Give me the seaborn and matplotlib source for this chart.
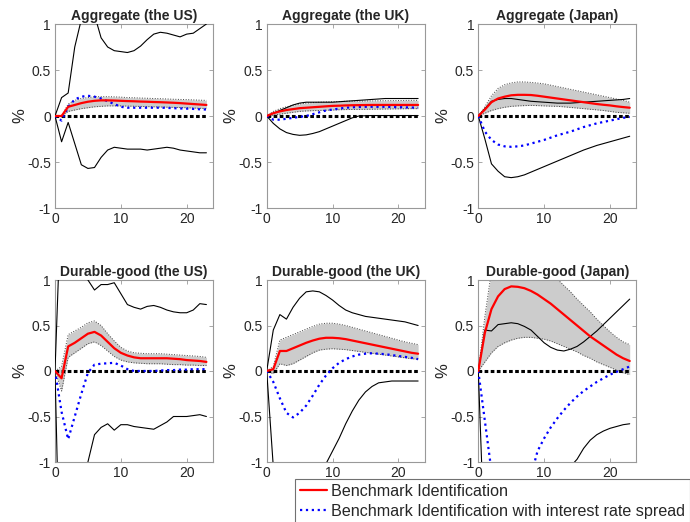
import seaborn as sns
import matplotlib.pyplot as plt
import pandas as pd

horizon = list(range(24))

titles = ['Aggregate (the US)', 'Aggregate (the UK)', 'Aggregate (Japan)',
          'Durable-good (the US)', 'Durable-good (the UK)', 'Durable-good (Japan)']

# benchmark identification: median and band
bench_med = [
    [0, 0, 0.10, 0.12, 0.14, 0.155, 0.165, 0.17, 0.17, 0.168, 0.165, 0.162, 0.16, 0.157, 0.155, 0.152, 0.15, 0.147, 0.144, 0.14, 0.135, 0.13, 0.125, 0.12],
    [0, 0.03, 0.05, 0.065, 0.075, 0.085, 0.09, 0.095, 0.10, 0.105, 0.11, 0.112, 0.115, 0.117, 0.118, 0.119, 0.12, 0.12, 0.12, 0.12, 0.12, 0.12, 0.12, 0.12],
    [0, 0.07, 0.15, 0.19, 0.21, 0.225, 0.23, 0.23, 0.228, 0.22, 0.21, 0.20, 0.19, 0.18, 0.17, 0.16, 0.15, 0.14, 0.13, 0.122, 0.115, 0.105, 0.097, 0.09],
    [0, -0.08, 0.27, 0.31, 0.36, 0.41, 0.43, 0.39, 0.32, 0.25, 0.20, 0.17, 0.15, 0.14, 0.14, 0.14, 0.14, 0.14, 0.135, 0.13, 0.12, 0.115, 0.11, 0.10],
    [0, 0.02, 0.22, 0.22, 0.25, 0.28, 0.31, 0.335, 0.355, 0.365, 0.365, 0.36, 0.35, 0.335, 0.32, 0.305, 0.29, 0.275, 0.26, 0.245, 0.23, 0.215, 0.20, 0.19],
    [0, 0.42, 0.68, 0.82, 0.90, 0.93, 0.925, 0.91, 0.88, 0.84, 0.79, 0.74, 0.68, 0.62, 0.56, 0.50, 0.44, 0.38, 0.33, 0.28, 0.23, 0.18, 0.14, 0.11],
]
bench_hi = [
    [0, 0.0, 0.13, 0.17, 0.19, 0.20, 0.21, 0.21, 0.21, 0.208, 0.205, 0.20, 0.198, 0.195, 0.193, 0.19, 0.188, 0.185, 0.182, 0.18, 0.178, 0.175, 0.172, 0.17],
    [0, 0.05, 0.08, 0.10, 0.115, 0.13, 0.14, 0.145, 0.15, 0.153, 0.155, 0.157, 0.16, 0.161, 0.162, 0.163, 0.164, 0.165, 0.166, 0.167, 0.168, 0.169, 0.17, 0.17],
    [0, 0.10, 0.22, 0.30, 0.34, 0.36, 0.37, 0.37, 0.365, 0.358, 0.35, 0.335, 0.32, 0.305, 0.29, 0.275, 0.26, 0.245, 0.23, 0.215, 0.20, 0.185, 0.17, 0.15],
    [0, 0.05, 0.40, 0.44, 0.48, 0.53, 0.55, 0.50, 0.41, 0.33, 0.26, 0.22, 0.20, 0.195, 0.19, 0.19, 0.19, 0.185, 0.18, 0.175, 0.17, 0.165, 0.16, 0.15],
    [0, 0.05, 0.34, 0.37, 0.40, 0.43, 0.46, 0.49, 0.515, 0.525, 0.525, 0.515, 0.50, 0.48, 0.46, 0.44, 0.42, 0.40, 0.38, 0.36, 0.34, 0.32, 0.305, 0.29],
    [0, 0.60, 1.10, 1.30, 1.40, 1.45, 1.45, 1.40, 1.35, 1.27, 1.18, 1.10, 1.01, 0.94, 0.87, 0.79, 0.72, 0.65, 0.57, 0.50, 0.43, 0.37, 0.32, 0.29],
]
bench_lo = [
    [0, 0.0, 0.05, 0.065, 0.08, 0.09, 0.10, 0.105, 0.11, 0.11, 0.11, 0.108, 0.106, 0.104, 0.102, 0.10, 0.098, 0.096, 0.094, 0.092, 0.09, 0.087, 0.084, 0.08],
    [0, 0.01, 0.02, 0.03, 0.04, 0.05, 0.055, 0.058, 0.06, 0.063, 0.065, 0.068, 0.07, 0.071, 0.072, 0.073, 0.074, 0.075, 0.076, 0.077, 0.078, 0.079, 0.08, 0.08],
    [0, 0.03, 0.06, 0.08, 0.095, 0.105, 0.11, 0.113, 0.115, 0.113, 0.11, 0.107, 0.105, 0.10, 0.093, 0.087, 0.08, 0.073, 0.067, 0.06, 0.05, 0.04, 0.035, 0.03],
    [0, -0.22, 0.15, 0.20, 0.25, 0.30, 0.32, 0.28, 0.22, 0.16, 0.12, 0.10, 0.09, 0.085, 0.08, 0.08, 0.08, 0.075, 0.07, 0.07, 0.065, 0.065, 0.06, 0.06],
    [0, -0.03, 0.08, 0.06, 0.08, 0.12, 0.16, 0.20, 0.23, 0.24, 0.245, 0.24, 0.235, 0.225, 0.215, 0.205, 0.195, 0.185, 0.175, 0.165, 0.155, 0.145, 0.135, 0.13],
    [0, 0.10, 0.20, 0.27, 0.31, 0.34, 0.36, 0.37, 0.37, 0.36, 0.35, 0.33, 0.30, 0.27, 0.24, 0.21, 0.17, 0.14, 0.10, 0.07, 0.04, 0.01, -0.02, -0.04],
]

# identification with interest rate spread: median and band
spread_med = [
    [0, -0.05, 0.10, 0.18, 0.21, 0.22, 0.21, 0.19, 0.16, 0.13, 0.10, 0.09, 0.09, 0.09, 0.09, 0.09, 0.09, 0.088, 0.085, 0.082, 0.08, 0.077, 0.073, 0.07],
    [0, -0.04, -0.04, -0.03, -0.02, -0.01, 0.0, 0.02, 0.04, 0.06, 0.07, 0.08, 0.09, 0.095, 0.098, 0.10, 0.10, 0.10, 0.10, 0.098, 0.096, 0.094, 0.092, 0.09],
    [0, -0.17, -0.26, -0.31, -0.33, -0.335, -0.33, -0.32, -0.30, -0.28, -0.26, -0.235, -0.21, -0.19, -0.17, -0.145, -0.12, -0.10, -0.08, -0.065, -0.05, -0.035, -0.02, -0.01],
    [0, -0.45, -0.75, -0.50, -0.25, -0.02, 0.07, 0.08, 0.085, 0.09, 0.06, 0.02, 0.0, 0.0, 0.0, 0.0, 0.005, 0.01, 0.01, 0.015, 0.015, 0.02, 0.02, 0.02],
    [0, -0.12, -0.30, -0.46, -0.51, -0.46, -0.38, -0.27, -0.15, -0.05, 0.03, 0.09, 0.13, 0.16, 0.18, 0.19, 0.195, 0.19, 0.185, 0.175, 0.165, 0.155, 0.145, 0.13],
    [0, -0.55, -1.10, -1.35, -1.50, -1.55, -1.50, -1.35, -1.15, -0.88, -0.74, -0.62, -0.52, -0.43, -0.35, -0.28, -0.22, -0.17, -0.12, -0.08, -0.04, -0.01, 0.02, 0.05],
]
spread_hi = [
    [0, 0.20, 0.25, 0.75, 1.05, 1.15, 1.10, 0.85, 0.75, 0.71, 0.70, 0.69, 0.71, 0.76, 0.83, 0.89, 0.91, 0.90, 0.88, 0.86, 0.89, 0.90, 0.95, 1.0],
    [0, 0.03, 0.06, 0.09, 0.12, 0.14, 0.15, 0.15, 0.15, 0.15, 0.15, 0.155, 0.16, 0.165, 0.17, 0.175, 0.18, 0.185, 0.19, 0.19, 0.19, 0.19, 0.19, 0.19],
    [0, 0.08, 0.16, 0.18, 0.19, 0.19, 0.18, 0.17, 0.16, 0.155, 0.15, 0.145, 0.14, 0.14, 0.14, 0.145, 0.15, 0.155, 0.16, 0.165, 0.17, 0.175, 0.18, 0.19],
    [0, 2.0, 1.8, 1.5, 1.2, 1.0, 0.89, 0.95, 0.95, 0.97, 0.85, 0.73, 0.70, 0.68, 0.71, 0.72, 0.70, 0.67, 0.65, 0.64, 0.64, 0.67, 0.74, 0.73],
    [0, 0.45, 0.62, 0.57, 0.70, 0.80, 0.87, 0.88, 0.87, 0.83, 0.78, 0.72, 0.67, 0.64, 0.62, 0.60, 0.59, 0.58, 0.57, 0.56, 0.55, 0.54, 0.52, 0.50],
    [0, 0.45, 0.44, 0.51, 0.52, 0.53, 0.52, 0.49, 0.45, 0.38, 0.31, 0.26, 0.23, 0.22, 0.24, 0.27, 0.32, 0.38, 0.44, 0.51, 0.58, 0.65, 0.72, 0.79],
]
spread_lo = [
    [0, -0.28, -0.07, -0.30, -0.53, -0.57, -0.56, -0.45, -0.37, -0.34, -0.35, -0.36, -0.36, -0.36, -0.37, -0.36, -0.35, -0.34, -0.35, -0.37, -0.38, -0.39, -0.40, -0.40],
    [0, -0.08, -0.14, -0.18, -0.20, -0.21, -0.205, -0.19, -0.17, -0.14, -0.11, -0.08, -0.05, -0.02, 0.0, 0.003, 0.005, 0.005, 0.005, 0.005, 0.005, 0.005, 0.005, 0.005],
    [0, -0.25, -0.52, -0.60, -0.66, -0.67, -0.66, -0.64, -0.61, -0.58, -0.55, -0.52, -0.49, -0.46, -0.43, -0.40, -0.37, -0.345, -0.32, -0.30, -0.28, -0.26, -0.24, -0.22],
    [0, -3.0, -2.5, -2.0, -1.5, -1.0, -0.70, -0.62, -0.58, -0.65, -0.59, -0.59, -0.61, -0.62, -0.63, -0.64, -0.60, -0.56, -0.50, -0.50, -0.50, -0.49, -0.48, -0.50],
    [0, -1.05, -1.4, -1.6, -1.7, -1.7, -1.6, -1.45, -1.25, -1.02, -0.88, -0.74, -0.58, -0.44, -0.32, -0.23, -0.17, -0.13, -0.12, -0.11, -0.11, -0.11, -0.11, -0.11],
    [0, -2.0, -2.5, -2.6, -2.6, -2.5, -2.4, -2.2, -2.0, -1.8, -1.6, -1.45, -1.3, -1.15, -1.05, -0.97, -0.85, -0.76, -0.70, -0.66, -0.63, -0.61, -0.59, -0.58],
]

sns.set_style("ticks")
plt.rcParams['font.family'] = ['Liberation Sans', 'DejaVu Sans']

fig = plt.figure(figsize=(6.9, 5.22), dpi=100)
lefts = [55, 266.7, 478.3]
rows = [(208, 184), (462, 182)]

for i in range(6):
    r, c = divmod(i, 3)
    bottom, h = rows[r]
    ax = fig.add_axes([lefts[c] / 690, 1 - bottom / 522, 158 / 690, h / 522])

    df = pd.DataFrame({'t': horizon, 'med': bench_med[i], 'hi': bench_hi[i], 'lo': bench_lo[i],
                       'smed': spread_med[i], 'shi': spread_hi[i], 'slo': spread_lo[i],
                       'zero': [0] * len(horizon)})

    ax.fill_between(df['t'], df['lo'], df['hi'], color='0.8', lw=0, zorder=1)
    sns.lineplot(data=df, x='t', y='hi', ax=ax, color='0.25', lw=0.7, ls=':', zorder=2)
    sns.lineplot(data=df, x='t', y='lo', ax=ax, color='0.25', lw=0.7, ls=':', zorder=2)
    sns.lineplot(data=df, x='t', y='shi', ax=ax, color='black', lw=0.8, zorder=3)
    sns.lineplot(data=df, x='t', y='slo', ax=ax, color='black', lw=0.8, zorder=3)
    sns.lineplot(data=df, x='t', y='zero', ax=ax, color='black', lw=2.2,
                 ls=(0, (1.2, 0.8)), zorder=4)
    sns.lineplot(data=df, x='t', y='smed', ax=ax, color='blue', lw=1.6, ls=':', zorder=5)
    sns.lineplot(data=df, x='t', y='med', ax=ax, color='red', lw=1.6, zorder=6)

    ax.set_xlim(0, 24)
    ax.set_ylim(-1, 1)
    ax.set_xticks([0, 10, 20])
    ax.set_yticks([-1, -0.5, 0, 0.5, 1])
    ax.set_yticklabels(['-1', '-0.5', '0', '0.5', '1'])
    ax.set_xlabel('')
    ax.set_ylabel('%', fontsize=12, labelpad=0)
    ax.set_title(titles[i], fontsize=10, fontweight='bold', pad=3)
    ax.tick_params(direction='in', top=True, right=True, length=3, width=0.6,
                   color='0.6', labelsize=10, pad=3)
    for s in ax.spines.values():
        s.set_color('0.6')
        s.set_linewidth(0.8)

handles = [plt.Line2D([], [], color='red', lw=1.6),
           plt.Line2D([], [], color='blue', lw=1.6, ls=':')]
leg = fig.legend(handles, ['Benchmark Identification',
                           'Benchmark Identification with interest rate spread'],
                 loc='upper left', bbox_to_anchor=(295 / 690, 1 - 479 / 522),
                 fontsize=11.6, frameon=True, fancybox=False, borderaxespad=0,
                 borderpad=0.3, labelspacing=0.3, handlelength=1.7, handletextpad=0.25)
leg.get_frame().set_edgecolor('0.3')
leg.get_frame().set_linewidth(0.8)

fig.savefig('out.png', dpi=100)
